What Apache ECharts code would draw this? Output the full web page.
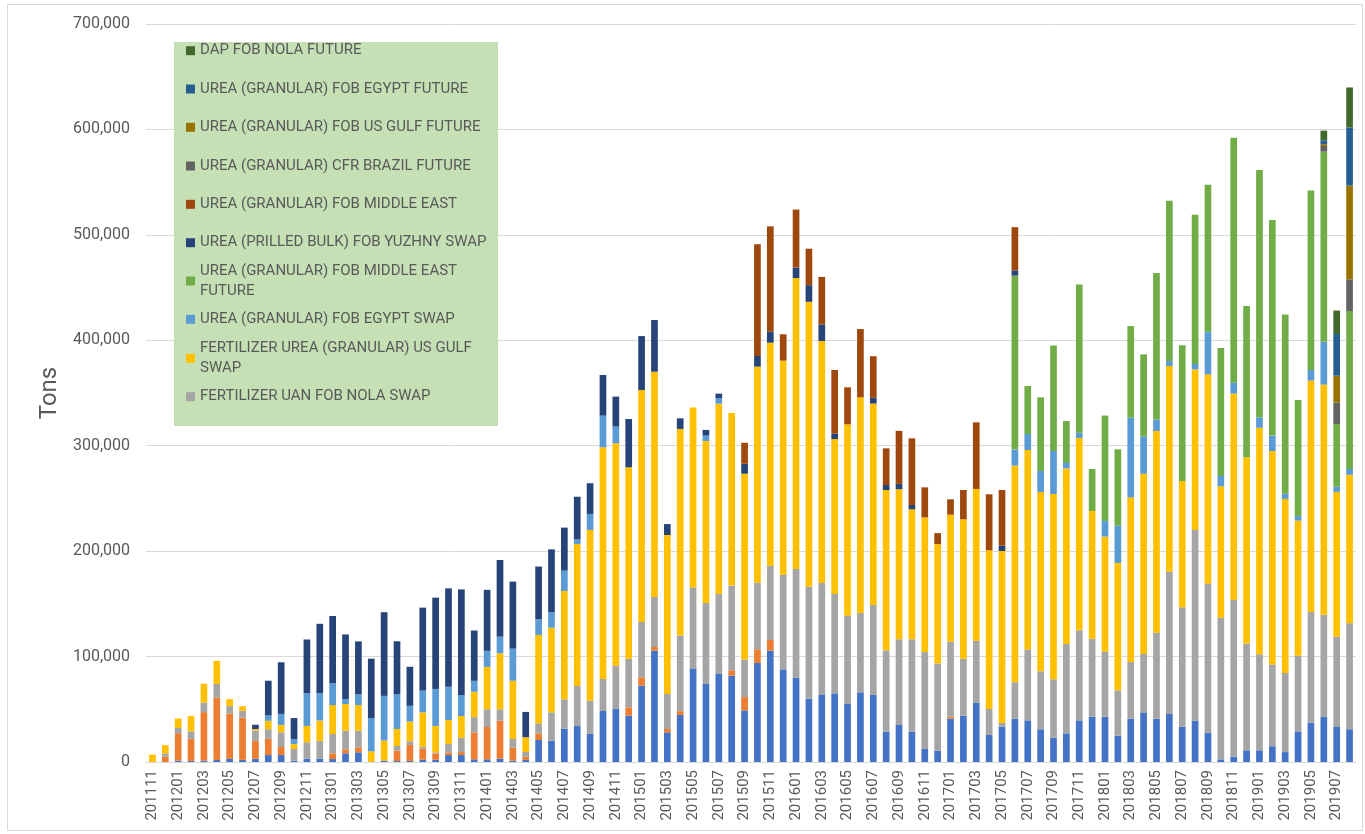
<!DOCTYPE html>
<html>
<head>
<meta charset="utf-8">
<script src="https://cdn.jsdelivr.net/npm/echarts@6/dist/echarts.min.js"></script>
<style>
  html, body { margin: 0; padding: 0; background: #ffffff; }
  #chart { width: 1365px; height: 834px; }
</style>
</head>
<body>
<div id="chart"></div>
<script>
// ---------------- DATA ----------------
const categories = [
  '201111','201112',
  '201201','201202','201203','201204','201205','201206','201207','201208','201209','201210','201211','201212',
  '201301','201302','201303','201304','201305','201306','201307','201308','201309','201310','201311','201312',
  '201401','201402','201403','201404','201405','201406','201407','201408','201409','201410','201411','201412',
  '201501','201502','201503','201504','201505','201506','201507','201508','201509','201510','201511','201512',
  '201601','201602','201603','201604','201605','201606','201607','201608','201609','201610','201611','201612',
  '201701','201702','201703','201704','201705','201706','201707','201708','201709','201710','201711','201712',
  '201801','201802','201803','201804','201805','201806','201807','201808','201809','201810','201811','201812',
  '201901','201902','201903','201904','201905','201906','201907','201908'
];

const yTicks = [0, 100000, 200000, 300000, 400000, 500000, 600000, 700000];

// series 1 (blue, bottom)
const seriesBlue = [
  0,0,1300,1000,1300,2000,3000,2000,3000,6600,
  6600,1300,3200,3200,2800,8200,9200,300,1300,1000,
  1000,2200,2200,6600,6600,2500,2500,3200,1300,2000,
  20900,20200,31600,34100,26600,48400,50600,43900,72400,105600,
  28100,44600,88800,74000,83500,81900,49000,93900,105600,87900,
  80000,60000,63600,65100,55000,66100,63600,28800,35100,28800,
  12300,10700,41100,43900,56000,25600,33500,41100,39500,31000,
  23100,27200,39500,43000,43000,25000,41100,47100,41100,45500,
  33500,39200,27800,2500,5100,11100,11100,15000,9400,29000,
  37400,42800,33200,31100
];
// series 2 (orange)
const seriesOrange = [
  0,5000,26000,21000,46000,59000,43000,40000,17000,15500,
  7600,0,0,0,5400,3800,4700,0,0,9800,
  15200,10400,6000,2500,2800,25600,30700,36000,12300,3000,
  6300,0,0,0,0,0,0,7900,7900,3500,
  3200,3500,0,0,0,5100,12600,13000,10100,0,
  0,0,0,0,0,0,0,0,0,0,
  0,0,1900,0,0,0,0,0,0,0,
  0,0,0,0,0,0,0,0,0,0,
  0,0,0,0,0,0,0,0,0,0,
  0,0,0,0
];
// FERTILIZER UAN FOB NOLA SWAP
const uanNolaSwap = [
  0,3000,5000,7000,9000,13000,7000,6600,10000,9000,
  14000,11000,15500,16800,18300,17700,15800,0,0,4400,
  3500,1900,1000,7900,13600,14500,16800,10800,8200,4500,
  9500,26900,27800,37900,31600,30400,40800,46200,52500,47400,
  33200,71800,76800,76800,75900,80300,35700,63200,70500,89800,
  103100,106200,106200,94200,83800,75200,85400,77100,81300,87600,
  92000,82800,71100,54100,59100,24700,3500,34500,67300,55000,
  55300,84700,85400,74000,61700,43000,53700,55300,81600,135000,
  113200,180800,141300,134400,148600,101200,91200,77500,75100,71800,
  104800,96900,85600,100600
];
// FERTILIZER UREA (GRANULAR) US GULF SWAP
const ureaUsGulfSwap = [
  7000,8000,9000,14500,18000,22000,6600,4400,1300,8000,
  7000,4700,15500,19300,27500,25300,24300,9800,19000,16100,
  18700,32600,25000,22800,20600,24000,40200,53100,55300,14000,
  83800,80300,102800,134700,161900,219700,210900,181500,220000,213700,
  150800,196000,170700,153700,180500,163800,176100,204900,211500,203000,
  275900,270300,229500,147000,181500,204600,191000,152100,142300,123300,
  127700,113200,120500,132200,143900,150500,163100,205500,189100,170100,
  175800,166600,182400,121100,109100,120800,156200,171000,191300,195100,
  119800,152400,198600,124600,195700,176700,214700,202500,165000,128200,
  219600,218300,137400,140700
];
// UREA (GRANULAR) FOB EGYPT SWAP
const egyptSwap = [
  0,0,0,0,0,0,0,0,0,5000,
  10400,4700,31000,26000,20600,4700,10100,31600,42400,32900,
  14900,20600,35100,31600,19900,10400,15200,15800,30400,0,
  14900,14500,19300,4400,15200,30000,15800,0,0,0,
  0,0,0,5100,5100,0,0,0,0,0,
  0,0,0,0,0,0,0,0,0,0,
  0,0,0,0,0,0,0,15200,15200,19900,
  40800,5100,5100,0,14900,35400,75600,35400,10800,4700,
  0,5100,40500,9800,10400,0,9900,14600,5000,4200,
  10000,40500,5000,5500
];
// UREA (GRANULAR) FOB MIDDLE EAST FUTURE
const middleEastFuture = [
  0,0,0,0,0,0,0,0,0,0,
  0,0,0,0,0,0,0,0,0,0,
  0,0,0,0,0,0,0,0,0,0,
  0,0,0,0,0,0,0,0,0,0,
  0,0,0,0,0,0,0,0,0,0,
  0,0,0,0,0,0,0,0,0,0,
  0,0,0,0,0,0,0,165000,45500,69900,
  100000,39800,140600,39800,99900,72400,86900,77800,139000,152000,
  128700,141500,139300,121400,232400,143500,234600,204600,169900,110200,
  170300,180400,59300,149900
];
// UREA (PRILLED BULK) FOB YUZHNY SWAP
const yuzhnySwap = [
  0,0,0,0,0,0,0,0,4000,33000,
  49000,20000,51000,65800,63900,61300,50300,56300,79400,50300,
  37000,78700,86600,93300,100200,47700,57900,72700,63600,24000,
  50000,59800,40800,40500,29100,38600,28500,45800,51200,49000,
  10400,10100,0,5400,4400,0,9500,10100,10400,0,
  10000,15800,15800,5100,0,0,5400,4700,5100,4100,
  0,0,0,0,0,0,5100,5000,0,0,
  0,0,0,0,0,0,0,0,0,0,
  0,0,0,0,0,0,0,0,0,0,
  0,0,0,0
];
// UREA (GRANULAR) FOB MIDDLE EAST
const middleEastSwap = [
  0,0,0,0,0,0,0,0,0,0,
  0,0,0,0,0,0,0,0,0,0,
  0,0,0,0,0,0,0,0,0,0,
  0,0,0,0,0,0,0,0,0,0,
  0,0,0,0,0,0,19900,106000,100000,25000,
  55000,34600,45000,60400,35100,64800,39500,34800,50300,63200,
  28500,10400,14500,27800,63200,53100,52800,41000,0,0,
  0,0,0,0,0,0,0,0,0,0,
  0,0,0,0,0,0,0,0,0,0,
  0,0,0,0
];
// UREA (GRANULAR) CFR BRAZIL FUTURE
const brazilFuture = [
  0,0,0,0,0,0,0,0,0,0, 0,0,0,0,0,0,0,0,0,0, 0,0,0,0,0,0,0,0,0,0,
  0,0,0,0,0,0,0,0,0,0, 0,0,0,0,0,0,0,0,0,0, 0,0,0,0,0,0,0,0,0,0,
  0,0,0,0,0,0,0,0,0,0, 0,0,0,0,0,0,0,0,0,0, 0,0,0,0,0,0,0,0,0,0,
  0,5400,20500,30000
];
// UREA (GRANULAR) FOB US GULF FUTURE
const usGulfFuture = [
  0,0,0,0,0,0,0,0,0,0, 0,0,0,0,0,0,0,0,0,0, 0,0,0,0,0,0,0,0,0,0,
  0,0,0,0,0,0,0,0,0,0, 0,0,0,0,0,0,0,0,0,0, 0,0,0,0,0,0,0,0,0,0,
  0,0,0,0,0,0,0,0,0,0, 0,0,0,0,0,0,0,0,0,0, 0,0,0,0,0,0,0,0,0,0,
  0,1700,25400,88900
];
// UREA (GRANULAR) FOB EGYPT FUTURE
const egyptFuture = [
  0,0,0,0,0,0,0,0,0,0, 0,0,0,0,0,0,0,0,0,0, 0,0,0,0,0,0,0,0,0,0,
  0,0,0,0,0,0,0,0,0,0, 0,0,0,0,0,0,0,0,0,0, 0,0,0,0,0,0,0,0,0,0,
  0,0,0,0,0,0,0,0,0,0, 0,0,0,0,0,0,0,0,0,0, 0,0,0,0,0,0,0,0,0,0,
  0,3700,39600,55100
];
// DAP FOB NOLA FUTURE
const dapNolaFuture = [
  0,0,0,0,0,0,0,0,0,0, 0,0,0,0,0,0,0,0,0,0, 0,0,0,0,0,0,0,0,0,0,
  0,0,0,0,0,0,0,0,0,0, 0,0,0,0,0,0,0,0,0,0, 0,0,0,0,0,0,0,0,0,0,
  0,0,0,0,0,0,0,0,0,0, 0,0,0,0,0,0,0,0,0,0, 0,0,0,0,0,0,0,0,0,0,
  0,9200,22200,38000
];

const seriesNames = [
  'Series 1',
  'Series 2',
  'FERTILIZER UAN FOB NOLA SWAP',
  'FERTILIZER UREA (GRANULAR) US GULF SWAP',
  'UREA (GRANULAR) FOB EGYPT SWAP',
  'UREA (GRANULAR) FOB MIDDLE EAST FUTURE',
  'UREA (PRILLED BULK) FOB YUZHNY SWAP',
  'UREA (GRANULAR) FOB MIDDLE EAST',
  'UREA (GRANULAR) CFR BRAZIL FUTURE',
  'UREA (GRANULAR) FOB US GULF FUTURE',
  'UREA (GRANULAR) FOB EGYPT FUTURE',
  'DAP FOB NOLA FUTURE'
];
const seriesData = [seriesBlue, seriesOrange, uanNolaSwap, ureaUsGulfSwap, egyptSwap, middleEastFuture,
  yuzhnySwap, middleEastSwap, brazilFuture, usGulfFuture, egyptFuture, dapNolaFuture];

// ---------------- STYLE ----------------
const colors = ['#4472C4','#ED7D31','#A5A5A5','#FFC000','#5B9BD5','#70AD47',
                '#264478','#9E480E','#636363','#997300','#255E91','#43682B'];
const FONT = 'Roboto, "Open Sans", sans-serif';
const TEXT = '#595959';

// legend (top to bottom as shown in the green box)
const legendOrder = [
  'DAP FOB NOLA FUTURE',
  'UREA (GRANULAR) FOB EGYPT FUTURE',
  'UREA (GRANULAR) FOB US GULF FUTURE',
  'UREA (GRANULAR) CFR BRAZIL FUTURE',
  'UREA (GRANULAR) FOB MIDDLE EAST',
  'UREA (PRILLED BULK) FOB YUZHNY SWAP',
  'UREA (GRANULAR) FOB MIDDLE EAST FUTURE',
  'UREA (GRANULAR) FOB EGYPT SWAP',
  'FERTILIZER UREA (GRANULAR) US GULF SWAP',
  'FERTILIZER UAN FOB NOLA SWAP'
];
const legendCenters = [50.7, 89, 127.3, 166, 204.3, 242.7, 281, 319.3, 358.3, 396.7];
const wrapped = {
  'UREA (GRANULAR) FOB MIDDLE EAST FUTURE': 'UREA (GRANULAR) FOB MIDDLE EAST\nFUTURE',
  'FERTILIZER UREA (GRANULAR) US GULF SWAP': 'FERTILIZER UREA (GRANULAR) US GULF\nSWAP'
};

const legends = legendOrder.map((name, k) => {
  const w = !!wrapped[name];
  return {
    data: [name],
    left: 186,
    top: legendCenters[k] - (w ? 30 : 10),
    orient: 'vertical',
    padding: 0,
    itemWidth: 9,
    itemHeight: 9,
    itemGap: 0,
    icon: 'rect',
    selectedMode: false,
    z: 6,
    formatter: w ? (() => wrapped[name]) : null,
    textStyle: {
      fontFamily: FONT, fontSize: 15, color: TEXT, lineHeight: 20,
      padding: w ? [20, 0, 0, 0] : 0
    }
  };
});

const chart = echarts.init(document.getElementById('chart'), null, { renderer: 'canvas' });

const option = {
  animation: false,
  backgroundColor: '#ffffff',
  color: colors,
  graphic: [
    { type: 'rect', z: 0, silent: true,
      shape: { x: 7.5, y: 4.5, width: 1355, height: 826 },
      style: { fill: 'none', stroke: '#D9D9D9', lineWidth: 1 } },
    { type: 'rect', z: 5, silent: true,
      shape: { x: 174, y: 42, width: 324, height: 384 },
      style: { fill: '#C5E0B4' } }
  ],
  legend: legends,
  grid: { left: 146, right: 9, top: 24, bottom: 72, containLabel: false },
  xAxis: {
    type: 'category',
    data: categories,
    axisTick: { show: false },
    axisLine: { lineStyle: { color: '#D9D9D9', width: 1 } },
    axisLabel: { rotate: 90, interval: 1, fontFamily: FONT, fontSize: 15, color: TEXT, margin: 8 }
  },
  yAxis: {
    type: 'value',
    min: yTicks[0],
    max: yTicks[yTicks.length - 1],
    interval: yTicks[1] - yTicks[0],
    name: 'Tons',
    nameLocation: 'middle',
    nameGap: 82,
    nameTextStyle: { fontFamily: FONT, fontSize: 24, color: TEXT },
    axisLine: { show: false },
    axisTick: { show: false },
    axisLabel: {
      fontFamily: FONT, fontSize: 16, color: TEXT, margin: 16,
      formatter: v => v.toLocaleString('en-US')
    },
    splitLine: { lineStyle: { color: '#D9D9D9', width: 1 } }
  },
  series: seriesNames.map((name, k) => ({
    name: name,
    type: 'bar',
    stack: 'total',
    data: seriesData[k],
    barCategoryGap: '48%',
    itemStyle: { color: colors[k] },
    emphasis: { disabled: true }
  }))
};

chart.setOption(option);
</script>
</body>
</html>
